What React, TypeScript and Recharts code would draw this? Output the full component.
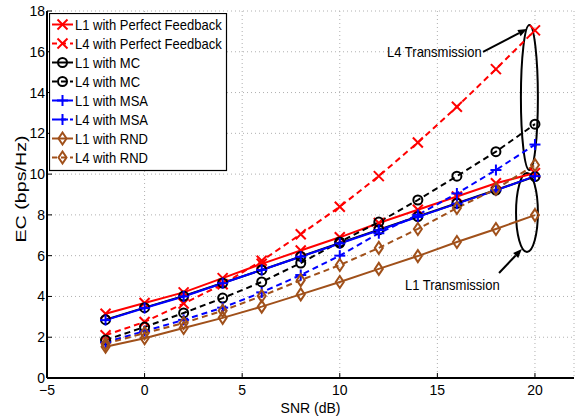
import React from 'react';
import {
  LineChart, Line, XAxis, YAxis, CartesianGrid, Legend,
  ReferenceArea, ReferenceLine, ReferenceDot,
} from 'recharts';

const snr = [-2, 0, 2, 4, 6, 8, 10, 12, 14, 16, 18, 20];
const l1Perfect = [3.15, 3.68, 4.2, 4.9, 5.6, 6.25, 6.9, 7.6, 8.25, 8.9, 9.55, 10.05];
const l4Perfect = [2.1, 2.75, 3.65, 4.6, 5.75, 7.05, 8.4, 9.9, 11.55, 13.3, 15.15, 17.05];
const l1MC = [2.86, 3.45, 4.02, 4.66, 5.3, 5.96, 6.62, 7.27, 7.92, 8.57, 9.22, 9.88];
const l4MC = [1.86, 2.5, 3.19, 3.92, 4.71, 5.64, 6.67, 7.65, 8.73, 9.9, 11.1, 12.45];
const l1MSA = [2.84, 3.43, 4.0, 4.65, 5.3, 5.95, 6.6, 7.25, 7.9, 8.55, 9.2, 9.9];
const l4MSA = [1.75, 2.3, 2.85, 3.45, 4.2, 5.05, 6.0, 7.1, 8.0, 9.05, 10.2, 11.45];
const l1RND = [1.53, 1.95, 2.45, 2.95, 3.5, 4.1, 4.71, 5.35, 5.98, 6.67, 7.31, 7.99];
const l4RND = [1.68, 2.2, 2.7, 3.3, 4.02, 4.8, 5.54, 6.38, 7.31, 8.34, 9.27, 10.45];

const xTicks = [-5, 0, 5, 10, 15, 20];
const yTicks = [0, 2, 4, 6, 8, 10, 12, 14, 16, 18];

const RED = '#ff0000';
const BLACK = '#000000';
const BLUE = '#0000ff';
const BROWN = '#a0501a';
const FONT = "'Liberation Sans', Arial, sans-serif";

type Marker = 'x' | 'o' | 'plus' | 'diamond';

const series: { key: string; name: string; color: string; dashed: boolean; marker: Marker; values: number[] }[] = [
  { key: 'l1Perfect', name: 'L1 with Perfect Feedback', color: RED, dashed: false, marker: 'x', values: l1Perfect },
  { key: 'l4Perfect', name: 'L4 with Perfect Feedback', color: RED, dashed: true, marker: 'x', values: l4Perfect },
  { key: 'l1MC', name: 'L1 with MC', color: BLACK, dashed: false, marker: 'o', values: l1MC },
  { key: 'l4MC', name: 'L4 with MC', color: BLACK, dashed: true, marker: 'o', values: l4MC },
  { key: 'l1MSA', name: 'L1 with MSA', color: BLUE, dashed: false, marker: 'plus', values: l1MSA },
  { key: 'l4MSA', name: 'L4 with MSA', color: BLUE, dashed: true, marker: 'plus', values: l4MSA },
  { key: 'l1RND', name: 'L1 with RND', color: BROWN, dashed: false, marker: 'diamond', values: l1RND },
  { key: 'l4RND', name: 'L4 with RND', color: BROWN, dashed: true, marker: 'diamond', values: l4RND },
];

const data = snr.map((s, i) => {
  const row: Record<string, number> = { snr: s };
  series.forEach((se) => { row[se.key] = se.values[i]; });
  return row;
});

function drawMarker(type: Marker, cx: number, cy: number, color: string, key?: string) {
  const sw = 2;
  if (type === 'x') {
    const h = 5;
    return (
      <g key={key}>
        <line x1={cx - h} y1={cy - h} x2={cx + h} y2={cy + h} stroke={color} strokeWidth={sw} />
        <line x1={cx - h} y1={cy + h} x2={cx + h} y2={cy - h} stroke={color} strokeWidth={sw} />
      </g>
    );
  }
  if (type === 'o') {
    return <circle key={key} cx={cx} cy={cy} r={4.5} fill="none" stroke={color} strokeWidth={sw} />;
  }
  if (type === 'plus') {
    const h = 5.5;
    return (
      <g key={key}>
        <line x1={cx - h} y1={cy} x2={cx + h} y2={cy} stroke={color} strokeWidth={sw} />
        <line x1={cx} y1={cy - h} x2={cx} y2={cy + h} stroke={color} strokeWidth={sw} />
      </g>
    );
  }
  const w = 4, hh = 6;
  return (
    <polygon key={key} points={`${cx},${cy - hh} ${cx + w},${cy} ${cx},${cy + hh} ${cx - w},${cy}`}
      fill="none" stroke={color} strokeWidth={sw} />
  );
}

const makeDot = (type: Marker, color: string) => (props: any) => {
  const { cx, cy, index } = props;
  if (cx == null || cy == null) return <g key={`d${index}`} />;
  return drawMarker(type, cx, cy, color, `d${index}`);
};

const BottomTick = (props: any) => {
  const { x, y, payload } = props;
  return (
    <g>
      <line x1={x} y1={y} x2={x} y2={y - 5} stroke="#000" strokeWidth={1} />
      <text x={x} y={y + 17} textAnchor="middle" fontSize={14} fontFamily={FONT} fill="#000">
        {payload.value < 0 ? `\u2212${Math.abs(payload.value)}` : payload.value}
      </text>
    </g>
  );
};

const LeftTick = (props: any) => {
  const { x, y, payload } = props;
  return (
    <g>
      <line x1={x} y1={y} x2={x + 5} y2={y} stroke="#000" strokeWidth={1} />
      <text x={x - 2} y={y + 5} textAnchor="end" fontSize={14} fontFamily={FONT} fill="#000">
        {payload.value}
      </text>
    </g>
  );
};

const TopTick = (props: any) => {
  const { x, y } = props;
  return <line x1={x} y1={y} x2={x} y2={y + 5} stroke="#000" strokeWidth={1} />;
};

const RightTick = (props: any) => {
  const { x, y } = props;
  return <line x1={x} y1={y} x2={x - 5} y2={y} stroke="#000" strokeWidth={1} />;
};

const LegendBox = () => {
  const w = 177, rowH = 19;
  const h = 157;
  return (
    <svg width={w + 2} height={h + 2} style={{ display: 'block' }}>
      <rect x={0.5} y={0.5} width={w} height={h} fill="#fff" stroke="#000" strokeWidth={1.2} />
      {series.map((s, i) => {
        const cy = 11.5 + i * rowH;
        return (
          <g key={s.key}>
            <line x1={3} y1={cy} x2={24} y2={cy} stroke={s.color} strokeWidth={2}
              strokeDasharray={s.dashed ? '5 4' : undefined} />
            {drawMarker(s.marker, 13.5, cy, s.color)}
            <text transform={`translate(26 ${cy + 5}) scale(0.93 1)`} x={0} y={0}
              fontSize={14} fontFamily={FONT} fill="#000">{s.name}</text>
          </g>
        );
      })}
    </svg>
  );
};

const ellipseShape = (props: any) => {
  const { x, y, width, height } = props;
  return (
    <ellipse cx={x + width / 2} cy={y + height / 2} rx={Math.abs(width) / 2} ry={Math.abs(height) / 2}
      fill="none" stroke="#000" strokeWidth={2} />
  );
};

const arrowShape = (props: any) => {
  const { x1, y1, x2, y2 } = props;
  const ang = Math.atan2(y2 - y1, x2 - x1);
  const L = 9, W = 3.5;
  const bx = x2 - L * Math.cos(ang), by = y2 - L * Math.sin(ang);
  const px = -Math.sin(ang) * W, py = Math.cos(ang) * W;
  return (
    <g>
      <line x1={x1} y1={y1} x2={bx} y2={by} stroke="#000" strokeWidth={2} />
      <polygon points={`${x2},${y2} ${bx + px},${by + py} ${bx - px},${by - py}`} fill="#000" />
    </g>
  );
};

const textShape = (label: string) => (props: any) => {
  const { cx, cy } = props;
  return (
    <text transform={`translate(${cx} ${cy + 5}) scale(0.93 1)`} x={0} y={0}
      fontSize={14} fontFamily={FONT} fill="#000">{label}</text>
  );
};

export default function App() {
  return (
    <div style={{ position: 'absolute', left: 0, top: 0 }}>
      <LineChart width={579} height={417} data={data}
        margin={{ top: 11, right: 5, bottom: 0, left: 0 }}>
        <CartesianGrid stroke="#b0b0b0" strokeDasharray="1 3" />
        <XAxis dataKey="snr" type="number" domain={[-5, 22]} ticks={xTicks} allowDataOverflow
          height={39} tickSize={0} tickMargin={0} tickLine={false} tick={<BottomTick />}
          axisLine={{ stroke: '#000', strokeWidth: 2 }}
          label={{ value: 'SNR (dB)', position: 'insideBottom', offset: 4, fontSize: 14, fontFamily: FONT, fill: '#000' }} />
        <XAxis xAxisId="top" orientation="top" dataKey="snr" type="number" domain={[-5, 22]} ticks={xTicks}
          height={0} tickSize={0} tickMargin={0} tickLine={false} tick={<TopTick />}
          axisLine={{ stroke: '#000', strokeWidth: 2 }} />
        <YAxis type="number" domain={[0, 18]} ticks={yTicks} width={47} tickSize={0} tickMargin={0}
          tickLine={false} tick={<LeftTick />} axisLine={{ stroke: '#000', strokeWidth: 2 }}
          label={(p: any) => (
            <text x={21} y={189} transform="rotate(-90 21 189)" textAnchor="middle" dominantBaseline="central"
              fontSize={14} fontFamily={FONT} fill="#000" textLength={107} lengthAdjust="spacingAndGlyphs">
              EC (bps/Hz)
            </text>
          )} />
        <YAxis yAxisId="right" orientation="right" type="number" domain={[0, 18]} ticks={yTicks} width={0}
          tickSize={0} tickMargin={0} tickLine={false} tick={<RightTick />}
          axisLine={{ stroke: '#000', strokeWidth: 2 }} />
        {series.map((s) => (
          <Line key={s.key} dataKey={s.key} name={s.name} stroke={s.color} strokeWidth={2}
            strokeDasharray={s.dashed ? '6 4' : undefined} dot={makeDot(s.marker, s.color)}
            activeDot={false} isAnimationActive={false} type="linear" />
        ))}
        <ReferenceArea x1={19.28} x2={20.15} y1={10.2} y2={17.31} shape={ellipseShape} ifOverflow="visible" />
        <ReferenceArea x1={19.03} x2={20.15} y1={6.18} y2={10.05} shape={ellipseShape} ifOverflow="visible" />
        <ReferenceLine segment={[{ x: 17.34, y: 15.99 }, { x: 19.59, y: 17.12 }]} shape={arrowShape} ifOverflow="visible" />
        <ReferenceLine segment={[{ x: 18.16, y: 5.15 }, { x: 19.33, y: 6.33 }]} shape={arrowShape} ifOverflow="visible" />
        <ReferenceDot x={12.42} y={15.99} r={0} shape={textShape('L4 Transmission')} ifOverflow="visible" />
        <ReferenceDot x={13.34} y={4.56} r={0} shape={textShape('L1 Transmission')} ifOverflow="visible" />
        <Legend layout="vertical" align="center" verticalAlign="middle" content={() => <LegendBox />}
          wrapperStyle={{ left: 49, top: 13, width: 179, height: 159, position: 'absolute' }} />
      </LineChart>
    </div>
  );
}
